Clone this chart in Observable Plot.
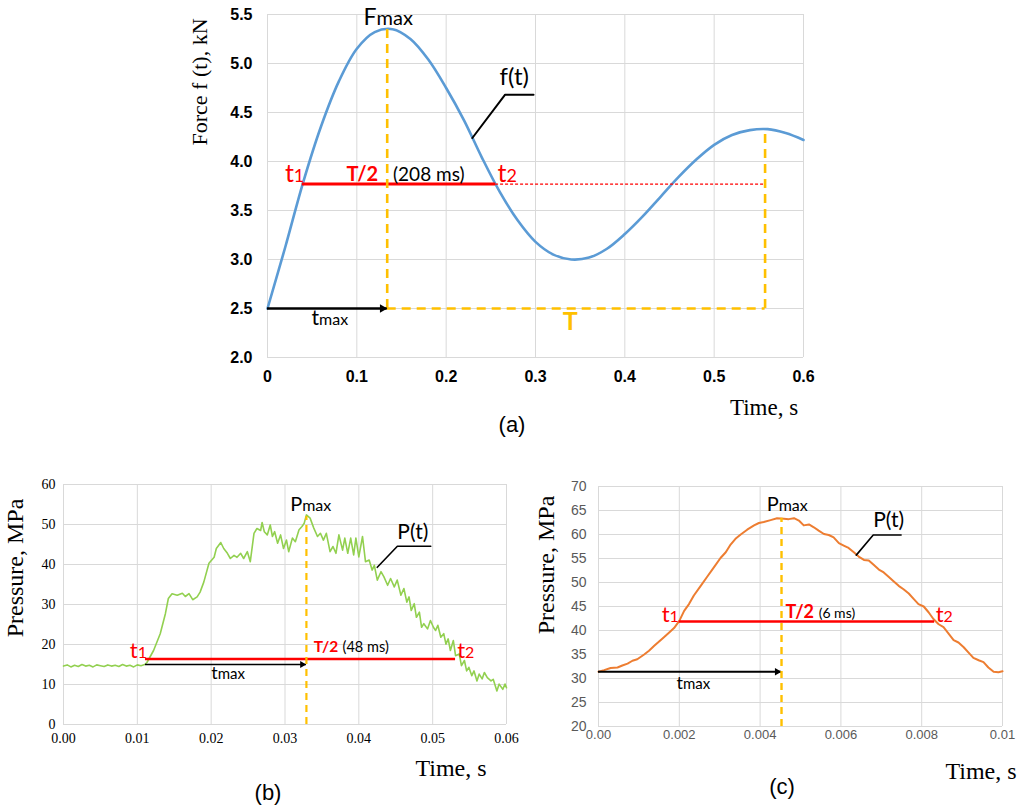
<!DOCTYPE html>
<html><head><meta charset="utf-8">
<script src="https://cdn.jsdelivr.net/npm/d3@7"></script>
<script src="https://cdn.jsdelivr.net/npm/@observablehq/plot@0.6"></script>
<style>
body{margin:0;background:#fff;}
#page{position:relative;width:1025px;height:808px;overflow:hidden;background:#fff;}
.panel{position:absolute;}
.lbl{position:absolute;white-space:nowrap;transform:translate(-50%,-50%);line-height:1;color:#000;}
.serif{font-family:"Liberation Serif","Times New Roman",serif;}
.sans{font-family:"Liberation Sans",Arial,sans-serif;}
.rot{transform:translate(-50%,-50%) rotate(-90deg);}
</style></head>
<body><div id="page">
<div id="pa" class="panel" style="left:180px;top:0;width:640px;height:440px"></div>
<div id="pb" class="panel" style="left:0;top:470px;width:520px;height:338px"></div>
<div id="pc" class="panel" style="left:520px;top:470px;width:505px;height:338px"></div>
<div class="lbl serif rot" style="left:200px;top:82px;font-size:22px">Force f (t), kN</div>
<div class="lbl serif" style="left:764px;top:407px;font-size:23px">Time, s</div>
<div class="lbl sans" style="left:512px;top:425px;font-size:22px">(a)</div>
<div class="lbl serif rot" style="left:15px;top:568px;font-size:24px">Pressure, MPa</div>
<div class="lbl serif" style="left:451px;top:768px;font-size:24px">Time, s</div>
<div class="lbl sans" style="left:268px;top:793px;font-size:22px">(b)</div>
<div class="lbl serif rot" style="left:546px;top:565px;font-size:24px">Pressure, MPa</div>
<div class="lbl serif" style="left:981px;top:771px;font-size:24px">Time, s</div>
<div class="lbl sans" style="left:782px;top:787px;font-size:22px">(c)</div>
</div>
<script>
// ---------- Panel (a): force f(t) ----------
const aSeries = [[0,2.50],[0.02,3.13],[0.04,3.79],[0.06,4.36],[0.08,4.82],[0.10,5.15],[0.12,5.32],[0.14,5.35],[0.16,5.25],[0.18,5.04],[0.20,4.75],[0.22,4.42],[0.24,4.04],[0.26,3.69],[0.28,3.40],[0.30,3.18],[0.32,3.05],[0.34,3.00],[0.36,3.02],[0.38,3.11],[0.40,3.26],[0.42,3.44],[0.44,3.64],[0.46,3.84],[0.48,4.02],[0.50,4.17],[0.52,4.27],[0.54,4.32],[0.56,4.33],[0.58,4.29],[0.60,4.22]];
const aXTicks = [0,0.1,0.2,0.3,0.4,0.5,0.6];
const aXTickLabels = ["0","0.1","0.2","0.3","0.4","0.5","0.6"];
const aYTicks = [2,2.5,3,3.5,4,4.5,5,5.5];
const aYTickLabels = ["2.0","2.5","3.0","3.5","4.0","4.5","5.0","5.5"];
const aTmax = [0.134], aFmax = [5.357], aPeriodEnd = [0.557], aPeak2 = [4.33], aBase = [2.5], aHalf = [3.77], aT1 = [0.0389], aT2 = [0.2553];
const aLeader = [[0.2293,4.24],[0.266,4.682],[0.2978,4.682]];
const aNotes = [
  {id:"Fbig", text:"F", t:0.122, v:5.39}, {id:"Fsub", text:"max", t:0.122, v:5.39},
  {id:"tbig", text:"t", t:0.0577, v:2.327}, {id:"tsub", text:"max", t:0.0577, v:2.327},
  {id:"T", text:"T", t:0.339, v:2.276},
  {id:"t1big", text:"t", t:0.0295, v:3.79}, {id:"t1sub", text:"1", t:0.0295, v:3.79},
  {id:"half", text:"T/2", t:0.0885, v:3.805}, {id:"dur", text:"(208 ms)", t:0.1405, v:3.805},
  {id:"t2big", text:"t", t:0.2676, v:3.79}, {id:"t2sub", text:"2", t:0.2676, v:3.79},
  {id:"fn", text:"f(t)", t:0.2598, v:4.778}
];

// ---------- Panel (b): pressure, green ----------
const bSeries = [[0,14.6],[0.0005,14.9],[0.001,14.4],[0.0015,14.8],[0.002,14.5],[0.0025,15.0],[0.003,14.6],[0.0035,14.8],[0.004,14.4],[0.0045,14.9],[0.005,14.7],[0.0055,14.5],[0.006,14.9],[0.0065,14.6],[0.007,14.8],[0.0075,14.5],[0.008,15.0],[0.0085,14.6],[0.009,14.8],[0.0095,14.4],[0.010,14.9],[0.0105,14.7],[0.011,15.0],
[0.0113,15.5],[0.0122,18.5],[0.0131,22.7],[0.0138,27.7],[0.0142,31.5],[0.0147,32.7],[0.0154,32.3],[0.0161,32.8],[0.0165,32.0],[0.0170,32.7],[0.0175,31.2],[0.0181,31.9],[0.0185,33.1],[0.0190,35.6],[0.0197,40.3],[0.0204,41.8],[0.0207,44.0],[0.0213,45.5],[0.0217,44.0],[0.0222,42.8],[0.0226,41.5],[0.0231,42.3],[0.0235,41.8],[0.0240,42.8],[0.0244,41.5],[0.0249,43.2],[0.0253,40.7],[0.0258,47.8],[0.0262,49.0],[0.0267,48.5],[0.0269,50.5],[0.0272,48.2],[0.0276,47.4],[0.0280,49.9],[0.0283,47.0],[0.0286,48.2],[0.0290,45.3],[0.0294,47.4],[0.0298,44.0],[0.0302,46.1],[0.0305,43.2],[0.0310,46.6],[0.0314,45.7],[0.0319,48.7],[0.0323,49.5],[0.0326,50.3],[0.0329,52.4],[0.0334,51.6],[0.0339,49.1],[0.0344,47.0],[0.0348,47.8],[0.0352,46.1],[0.0356,47.8],[0.0361,43.2],[0.0365,44.5],[0.0369,42.8],[0.0373,47.4],[0.0378,43.6],[0.0381,46.6],[0.0385,42.8],[0.0389,46.6],[0.0393,42.4],[0.0396,46.6],[0.0400,41.9],[0.0405,47.0],[0.0409,40.7],[0.0414,41.1],[0.0418,38.6],[0.0421,39.8],[0.0425,36.1],[0.0430,38.2],[0.0434,36.9],[0.0439,34.8],[0.0443,36.5],[0.0448,34.4],[0.0452,36.1],[0.0457,32.3],[0.0461,34.0],[0.0465,30.6],[0.0468,31.9],[0.0471,28.5],[0.0475,30.2],[0.0478,26.8],[0.0482,28.1],[0.0485,24.3],[0.0488,25.2],[0.0493,23.9],[0.0497,26.0],[0.0501,24.3],[0.0504,23.5],[0.0507,24.8],[0.0511,21.8],[0.0515,22.7],[0.0518,20.1],[0.0521,21.4],[0.0524,18.5],[0.0528,21.0],[0.0531,17.2],[0.0536,17.6],[0.0539,14.7],[0.0543,16.0],[0.0546,13.4],[0.0549,14.3],[0.0553,12.2],[0.0556,13.4],[0.0560,10.9],[0.0563,12.6],[0.0567,11.4],[0.0570,13.0],[0.0574,11.7],[0.0579,10.9],[0.0582,11.3],[0.0587,8.4],[0.0590,10.1],[0.0595,8.8],[0.0598,10.1],[0.0600,9.2]];
const bXTicks = [0,0.01,0.02,0.03,0.04,0.05,0.06];
const bXTickLabels = ["0.00","0.01","0.02","0.03","0.04","0.05","0.06"];
const bYTicks = [0,10,20,30,40,50,60];
const bYTickLabels = ["0","10","20","30","40","50","60"];
const bTmax = [0.0329], bPmax = [52.0], bT1 = [0.0111], bT2 = [0.0531], bHalf = [16.4], bArrowLevel = [15.0], bFloor = [0];
const bLeader = [[0.0425,39.3],[0.04522,44.56],[0.04974,44.56]];
const bNotes = [
  {id:"Pbig", text:"P", t:0.03233, v:53.3}, {id:"Psub", text:"max", t:0.03233, v:53.3},
  {id:"tbig", text:"t", t:0.02089, v:11.4}, {id:"tsub", text:"max", t:0.02089, v:11.4},
  {id:"t1big", text:"t", t:0.01004, v:16.7}, {id:"t1sub", text:"1", t:0.01004, v:16.7},
  {id:"half", text:"T/2", t:0.0339, v:18.2}, {id:"dur", text:"(48 ms)", t:0.0378, v:18.2},
  {id:"t2big", text:"t", t:0.05439, v:16.7}, {id:"t2sub", text:"2", t:0.05439, v:16.7},
  {id:"fn", text:"P(t)", t:0.04522, v:46.3}
];

// ---------- Panel (c): pressure, orange ----------
const cSeries = [[0,31.4],[0.00014,31.75],[0.0003,32.2],[0.00047,32.3],[0.00059,32.7],[0.00072,33.1],[0.00084,33.7],[0.00096,34.0],[0.00113,35.0],[0.00125,35.8],[0.00138,36.8],[0.0015,37.7],[0.00162,38.6],[0.00175,39.6],[0.00187,40.5],[0.002,42.0],[0.00212,44.1],[0.00224,45.5],[0.00236,47.3],[0.00253,49.3],[0.00269,51.2],[0.00286,53.2],[0.00302,55.1],[0.00315,56.3],[0.00327,57.9],[0.00339,59.1],[0.00352,60.0],[0.00368,61.0],[0.00385,61.9],[0.00397,62.4],[0.00409,62.6],[0.00426,63.0],[0.00442,63.4],[0.00459,63.3],[0.00471,63.2],[0.00484,63.4],[0.00496,62.9],[0.00508,61.9],[0.00521,62.1],[0.00533,61.5],[0.00545,60.8],[0.00558,60.1],[0.0057,59.9],[0.00582,59.4],[0.00595,58.2],[0.00607,57.7],[0.00619,57.2],[0.00632,56.3],[0.00644,55.4],[0.00657,54.7],[0.00669,54.6],[0.00681,53.7],[0.00694,52.7],[0.00706,52.1],[0.00718,51.2],[0.00731,50.2],[0.00743,49.3],[0.00755,48.6],[0.00768,47.7],[0.0078,46.6],[0.00792,45.5],[0.00805,45.0],[0.00817,43.8],[0.00829,42.4],[0.00842,41.3],[0.00854,40.7],[0.00867,39.3],[0.00879,38.0],[0.00891,37.5],[0.00904,36.5],[0.00916,35.4],[0.00928,34.3],[0.00941,33.8],[0.00953,33.4],[0.00965,32.3],[0.00978,31.4],[0.0099,31.3],[0.01,31.5]];
const cXTicks = [0,0.002,0.004,0.006,0.008,0.01];
const cXTickLabels = ["0.00","0.002","0.004","0.006","0.008","0.01"];
const cYTicks = [20,25,30,35,40,45,50,55,60,65,70];
const cYTickLabels = ["20","25","30","35","40","45","50","55","60","65","70"];
const cTmax = [0.00453], cPmax = [63.4], cT1 = [0.002], cT2 = [0.00832], cHalf = [41.9], cArrowLevel = [31.4], cFloor = [20];
const cLeader = [[0.00638,55.7],[0.0068,59.9],[0.00749,59.9]];
const cNotes = [
  {id:"Pbig", text:"P", t:0.00446, v:65.0}, {id:"Psub", text:"max", t:0.00446, v:65.0},
  {id:"tbig", text:"t", t:0.00209, v:27.8}, {id:"tsub", text:"max", t:0.00209, v:27.8},
  {id:"t1big", text:"t", t:0.00176, v:41.7}, {id:"t1sub", text:"1", t:0.00176, v:41.7},
  {id:"half", text:"T/2", t:0.00463, v:42.7}, {id:"dur", text:"(6 ms)", t:0.00545, v:42.7},
  {id:"t2big", text:"t", t:0.00854, v:41.7}, {id:"t2sub", text:"2", t:0.00854, v:41.7},
  {id:"fn", text:"P(t)", t:0.0068, v:61.5}
];

// ---------- styling helpers ----------
const GRID = "#d9d9d9", YEL = "#FFC000", RED = "#FF0000";
const NOTE_FONT = "Lato, 'Open Sans', sans-serif";
function note(list, id, opts) {
  return Plot.text(list.filter(d => d.id === id), {x: "t", y: "v", text: "text", lineAnchor: "bottom", fontFamily: NOTE_FONT, fill: "#000", ...opts});
}
function labeler(ticks, labels) { return d => labels[ticks.indexOf(d)]; }
function head(pt, lvl, r, dx) {
  return Plot.dot([[pt[0], lvl[0]]], {x: d => d[0], y: d => d[1], symbol: "triangle", rotate: 90, r, fill: "#000", stroke: "none", dx});
}

// ---------- Panel (a) ----------
const chartA = Plot.plot({
  width: 640, height: 440, marginLeft: 87, marginRight: 17, marginTop: 14, marginBottom: 83,
  x: {domain: [0, 0.6]}, y: {domain: [2, 5.5]},
  style: {background: "transparent", overflow: "visible"},
  marks: [
    Plot.gridX(aXTicks, {stroke: GRID, strokeOpacity: 1}),
    Plot.gridY(aYTicks, {stroke: GRID, strokeOpacity: 1}),
    Plot.axisX(aXTicks, {tickSize: 0, tickPadding: 13, tickFormat: labeler(aXTicks, aXTickLabels), fontSize: 16, fontWeight: "bold", fontFamily: "'Liberation Sans', Arial", label: null}),
    Plot.axisY(aYTicks, {tickSize: 0, tickPadding: 15, tickFormat: labeler(aYTicks, aYTickLabels), fontSize: 16, fontWeight: "bold", fontFamily: "'Liberation Sans', Arial", label: null}),
    Plot.line(aSeries, {x: d => d[0], y: d => d[1], stroke: "#5B9BD5", strokeWidth: 2.6, curve: "catmull-rom"}),
    Plot.ruleY(aHalf, {x1: aT2[0], x2: aPeriodEnd[0], stroke: RED, strokeWidth: 1.2, strokeDasharray: "3,2"}),
    Plot.ruleY(aHalf, {x1: aT1[0], x2: aT2[0], stroke: RED, strokeWidth: 3}),
    Plot.ruleX(aTmax, {y1: aBase[0], y2: aFmax[0], stroke: YEL, strokeWidth: 2.6, strokeDasharray: "9,6"}),
    Plot.ruleY(aBase, {x1: aTmax[0], x2: aPeriodEnd[0], stroke: YEL, strokeWidth: 2.6, strokeDasharray: "9,6"}),
    Plot.ruleX(aPeriodEnd, {y1: aBase[0], y2: aPeak2[0], stroke: YEL, strokeWidth: 2.6, strokeDasharray: "9,6"}),
    Plot.ruleY(aBase, {x1: 0, x2: aTmax[0], stroke: "#000", strokeWidth: 2.6}),
    head(aTmax, aBase, 3.2, -4.8),
    Plot.line(aLeader, {x: d => d[0], y: d => d[1], stroke: "#000", strokeWidth: 2}),
    note(aNotes, "Fbig", {textAnchor: "end", fontSize: 23}),
    note(aNotes, "Fsub", {textAnchor: "start", fontSize: 20}),
    note(aNotes, "tbig", {textAnchor: "end", fontSize: 21}),
    note(aNotes, "tsub", {textAnchor: "start", fontSize: 16}),
    note(aNotes, "T", {textAnchor: "middle", fontSize: 25, fontWeight: "bold", fill: YEL}),
    note(aNotes, "t1big", {textAnchor: "end", fontSize: 25, fill: RED}),
    note(aNotes, "t1sub", {textAnchor: "start", fontSize: 18, fill: RED}),
    note(aNotes, "half", {textAnchor: "start", fontSize: 20, fontWeight: "bold", fill: RED}),
    note(aNotes, "dur", {textAnchor: "start", fontSize: 19}),
    note(aNotes, "t2big", {textAnchor: "end", fontSize: 25, fill: RED}),
    note(aNotes, "t2sub", {textAnchor: "start", fontSize: 18, fill: RED}),
    note(aNotes, "fn", {textAnchor: "start", fontSize: 24})
  ]
});
document.getElementById("pa").append(chartA);

// ---------- Panel (b) ----------
const chartB = Plot.plot({
  width: 520, height: 338, marginLeft: 63, marginRight: 14, marginTop: 14, marginBottom: 84,
  x: {domain: [0, 0.06]}, y: {domain: [0, 60]},
  style: {background: "transparent", overflow: "visible"},
  marks: [
    Plot.gridX(bXTicks, {stroke: GRID, strokeOpacity: 1}),
    Plot.gridY(bYTicks, {stroke: GRID, strokeOpacity: 1}),
    Plot.axisX(bXTicks, {tickSize: 0, tickPadding: 9, tickFormat: labeler(bXTicks, bXTickLabels), fontSize: 14, fontFamily: "'Liberation Serif', 'Times New Roman', serif", label: null}),
    Plot.axisY(bYTicks, {tickSize: 0, tickPadding: 8, tickFormat: labeler(bYTicks, bYTickLabels), fontSize: 14, fontFamily: "'Liberation Serif', 'Times New Roman', serif", label: null}),
    Plot.line(bSeries, {x: d => d[0], y: d => d[1], stroke: "#92D050", strokeWidth: 1.6}),
    Plot.ruleY(bHalf, {x1: bT1[0], x2: bT2[0], stroke: RED, strokeWidth: 2.5}),
    Plot.ruleY(bArrowLevel, {x1: bT1[0], x2: bTmax[0], stroke: "#000", strokeWidth: 1.6}),
    head(bTmax, bArrowLevel, 2.6, -4.2),
    Plot.ruleX(bTmax, {y1: bFloor[0], y2: bPmax[0], stroke: YEL, strokeWidth: 2.2, strokeDasharray: "7,5"}),
    Plot.line(bLeader, {x: d => d[0], y: d => d[1], stroke: "#000", strokeWidth: 1.6}),
    note(bNotes, "Pbig", {textAnchor: "end", fontSize: 20}),
    note(bNotes, "Psub", {textAnchor: "start", fontSize: 16}),
    note(bNotes, "tbig", {textAnchor: "end", fontSize: 18}),
    note(bNotes, "tsub", {textAnchor: "start", fontSize: 15}),
    note(bNotes, "t1big", {textAnchor: "end", fontSize: 22, fill: RED}),
    note(bNotes, "t1sub", {textAnchor: "start", fontSize: 16, fill: RED}),
    note(bNotes, "half", {textAnchor: "start", fontSize: 15.5, fontWeight: "bold", fill: RED}),
    note(bNotes, "dur", {textAnchor: "start", fontSize: 14.5}),
    note(bNotes, "t2big", {textAnchor: "end", fontSize: 22, fill: RED}),
    note(bNotes, "t2sub", {textAnchor: "start", fontSize: 16, fill: RED}),
    note(bNotes, "fn", {textAnchor: "start", fontSize: 21})
  ]
});
document.getElementById("pb").append(chartB);

// ---------- Panel (c) ----------
const chartC = Plot.plot({
  width: 505, height: 338, marginLeft: 78, marginRight: 23, marginTop: 16, marginBottom: 82,
  x: {domain: [0, 0.01]}, y: {domain: [20, 70]},
  style: {background: "transparent", overflow: "visible"},
  marks: [
    Plot.gridX(cXTicks, {stroke: GRID, strokeOpacity: 1}),
    Plot.gridY(cYTicks, {stroke: GRID, strokeOpacity: 1}),
    Plot.axisX(cXTicks, {tickSize: 0, tickPadding: 3, tickFormat: labeler(cXTicks, cXTickLabels), fontSize: 13, fontFamily: "'Liberation Sans', Arial", color: "#595959", label: null}),
    Plot.axisY(cYTicks, {tickSize: 0, tickPadding: 12, tickFormat: labeler(cYTicks, cYTickLabels), fontSize: 14, fontFamily: "'Liberation Sans', Arial", color: "#595959", label: null}),
    Plot.line(cSeries, {x: d => d[0], y: d => d[1], stroke: "#ED7D31", strokeWidth: 2}),
    Plot.ruleY(cHalf, {x1: cT1[0], x2: cT2[0], stroke: RED, strokeWidth: 2.5}),
    Plot.ruleY(cArrowLevel, {x1: 0, x2: cTmax[0], stroke: "#000", strokeWidth: 2}),
    head(cTmax, cArrowLevel, 2.8, -4.4),
    Plot.ruleX(cTmax, {y1: cFloor[0], y2: cPmax[0], stroke: YEL, strokeWidth: 2.4, strokeDasharray: "7,5"}),
    Plot.line(cLeader, {x: d => d[0], y: d => d[1], stroke: "#000", strokeWidth: 1.6}),
    note(cNotes, "Pbig", {textAnchor: "end", fontSize: 20}),
    note(cNotes, "Psub", {textAnchor: "start", fontSize: 16}),
    note(cNotes, "tbig", {textAnchor: "end", fontSize: 18}),
    note(cNotes, "tsub", {textAnchor: "start", fontSize: 15}),
    note(cNotes, "t1big", {textAnchor: "end", fontSize: 22, fill: RED}),
    note(cNotes, "t1sub", {textAnchor: "start", fontSize: 16, fill: RED}),
    note(cNotes, "half", {textAnchor: "start", fontSize: 18, fontWeight: "bold", fill: RED}),
    note(cNotes, "dur", {textAnchor: "start", fontSize: 14}),
    note(cNotes, "t2big", {textAnchor: "end", fontSize: 22, fill: RED}),
    note(cNotes, "t2sub", {textAnchor: "start", fontSize: 16, fill: RED}),
    note(cNotes, "fn", {textAnchor: "start", fontSize: 21})
  ]
});
document.getElementById("pc").append(chartC);
</script>
</body></html>
